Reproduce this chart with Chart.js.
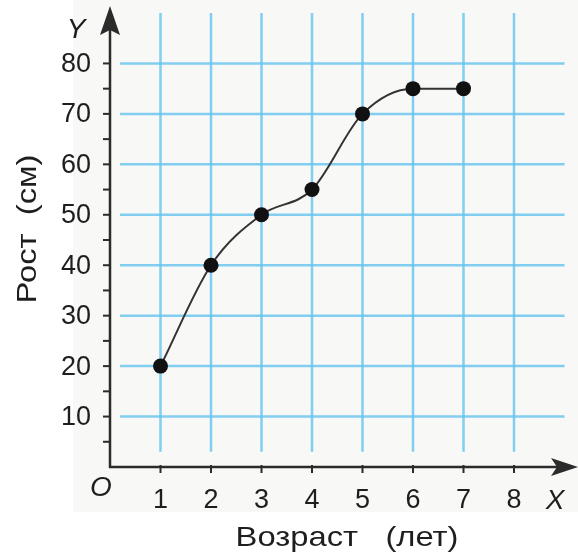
<!DOCTYPE html>
<html>
<head>
<meta charset="utf-8">
<script src="https://cdn.jsdelivr.net/npm/chart.js@4"></script>
<style>
	html, body { margin: 0; padding: 0; background: #ffffff; }
	#wrap { width: 578px; height: 556px; position: relative; }
</style>
</head>
<body>
<div id="wrap"><canvas id="growth-chart" width="578" height="556"></canvas></div>
<script>
// возраст (лет) и рост (см)
const ages = [1, 2, 3, 4, 5, 6, 7];
const heights = [20, 40, 50, 55, 70, 75, 75];
const xTicks = [1, 2, 3, 4, 5, 6, 7, 8];
const yTicks = [10, 20, 30, 40, 50, 60, 70, 80];
const yMinorTicks = [5, 15, 25, 35, 45, 55, 65, 75];
const xTitle = "Возраст   (лет)";
const yTitle = "Рост  (см)";

const FONT = "'Liberation Sans', Arial, sans-serif";
const AXIS_COLOR = "#2b2b2b";
const GRID_COLOR = "rgba(100, 195, 238, 0.8)";

// подпись, растянутая по горизонтали (шрифт в оригинале шире)
function wideText(ctx, text, cx, cy, angle) {
	ctx.save();
	ctx.translate(cx, cy);
	ctx.rotate(angle);
	ctx.scale(1.17, 1);
	ctx.fillText(text, 0, 0);
	ctx.restore();
}

// сетка, оси со стрелками и подписи рисуются вручную по шкалам
const paperPlugin = {
	id: "paper",
	beforeDraw(chart) {
		const { ctx } = chart;
		const x = chart.scales.x;
		const y = chart.scales.y;
		ctx.save();
		ctx.fillStyle = "#f8f8f7";
		ctx.fillRect(73, 0, 578 - 73, 512);

		ctx.strokeStyle = GRID_COLOR;
		ctx.lineWidth = 2.5;
		yTicks.forEach((v) => {
			const py = y.getPixelForValue(v);
			ctx.beginPath();
			ctx.moveTo(x.getPixelForValue(0.2), py);
			ctx.lineTo(x.getPixelForValue(9), py);
			ctx.stroke();
		});
		xTicks.forEach((v) => {
			const px = x.getPixelForValue(v);
			ctx.beginPath();
			ctx.moveTo(px, y.getPixelForValue(90));
			ctx.lineTo(px, y.getPixelForValue(3));
			ctx.stroke();
		});
		ctx.restore();
	},
	afterDatasetsDraw(chart) {
		const { ctx } = chart;
		const x = chart.scales.x;
		const y = chart.scales.y;
		const ox = x.getPixelForValue(0);
		const oy = y.getPixelForValue(0);
		ctx.save();
		ctx.strokeStyle = AXIS_COLOR;
		ctx.fillStyle = AXIS_COLOR;
		ctx.lineWidth = 2.5;

		// ось Y
		ctx.beginPath();
		ctx.moveTo(ox, oy + 1);
		ctx.lineTo(ox, 20);
		ctx.stroke();
		ctx.beginPath();
		ctx.moveTo(ox, 6);
		ctx.lineTo(ox + 10, 35);
		ctx.lineTo(ox, 30);
		ctx.lineTo(ox - 10, 35);
		ctx.closePath();
		ctx.fill();

		// ось X
		ctx.beginPath();
		ctx.moveTo(ox - 1, oy);
		ctx.lineTo(565, oy);
		ctx.stroke();
		ctx.beginPath();
		ctx.moveTo(578, oy);
		ctx.lineTo(551, oy - 9);
		ctx.lineTo(557, oy);
		ctx.lineTo(551, oy + 9);
		ctx.closePath();
		ctx.fill();

		// засечки
		ctx.lineWidth = 2;
		yTicks.concat(yMinorTicks).forEach((v) => {
			const py = y.getPixelForValue(v);
			ctx.beginPath();
			ctx.moveTo(ox - 7, py);
			ctx.lineTo(ox, py);
			ctx.stroke();
		});
		xTicks.forEach((v) => {
			const px = x.getPixelForValue(v);
			ctx.beginPath();
			ctx.moveTo(px, oy - 2);
			ctx.lineTo(px, oy + 6);
			ctx.stroke();
		});

		// подписи делений
		ctx.fillStyle = "#1e1e1e";
		ctx.font = `27px ${FONT}`;
		ctx.textAlign = "right";
		ctx.textBaseline = "middle";
		yTicks.forEach((v) => {
			ctx.fillText(String(v), 91, y.getPixelForValue(v) + 1);
		});
		ctx.textAlign = "center";
		xTicks.forEach((v) => {
			ctx.fillText(String(v), x.getPixelForValue(v), 501);
		});

		ctx.font = `italic 28px ${FONT}`;
		ctx.fillText("O", 101, 488);
		ctx.fillText("Y", 76, 30);
		ctx.fillText("X", 555, 501);

		ctx.font = `28px ${FONT}`;
		wideText(ctx, xTitle, 347, 538, 0);
		wideText(ctx, yTitle, 28, 229, -Math.PI / 2);
		ctx.restore();
	},
};

new Chart(document.getElementById("growth-chart"), {
	type: "line",
	data: {
		datasets: [
			{
				data: ages.map((a, i) => ({ x: a, y: heights[i] })),
				borderColor: "#333333",
				borderWidth: 2,
				cubicInterpolationMode: "monotone",
				pointRadius: 7.5,
				pointBackgroundColor: "#111111",
				pointBorderColor: "#111111",
				pointBorderWidth: 0,
			},
		],
	},
	options: {
		responsive: false,
		animation: false,
		layout: { padding: { left: 110, right: 13.5, top: 13, bottom: 89 } },
		plugins: {
			legend: { display: false },
			tooltip: { enabled: false },
		},
		scales: {
			x: { type: "linear", min: 0, max: 9, display: false },
			y: { type: "linear", min: 0, max: 90, display: false },
		},
	},
	plugins: [paperPlugin],
});
</script>
</body>
</html>
